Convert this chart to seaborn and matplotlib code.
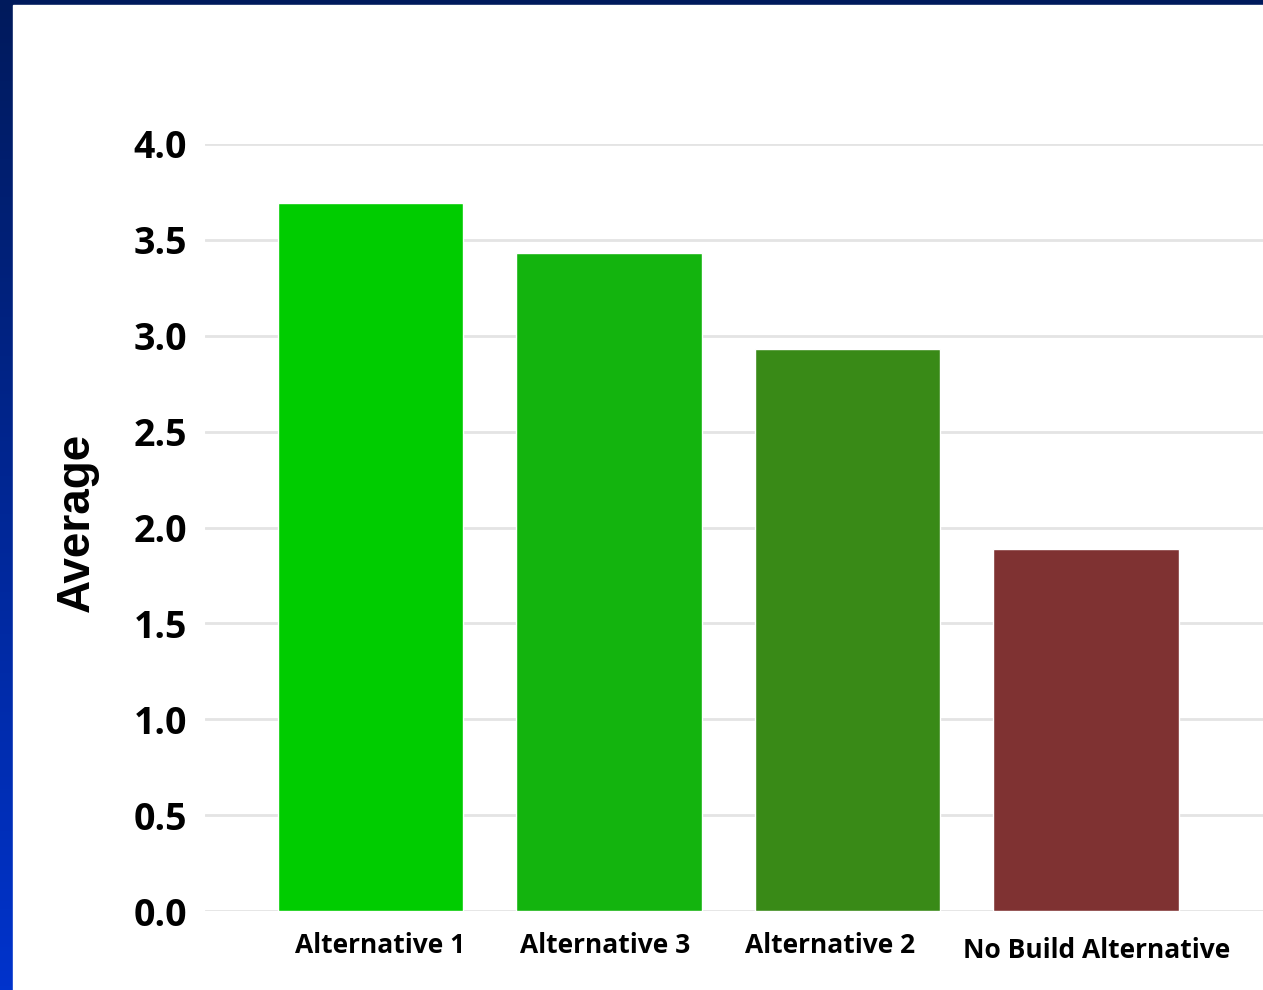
import numpy as np
import pandas as pd
import matplotlib
matplotlib.use("Agg")
import matplotlib.pyplot as plt
from matplotlib.patches import Rectangle
from matplotlib.colors import LinearSegmentedColormap
from matplotlib.transforms import ScaledTranslation
import seaborn as sns

categories = ["Alternative 1", "Alternative 3", "Alternative 2", "No Build Alternative"]
values = [3.69, 3.43, 2.93, 1.89]
colors = ["#00CC00", "#13B40E", "#398A17", "#7F3232"]
yticks = [0.0, 0.5, 1.0, 1.5, 2.0, 2.5, 3.0, 3.5, 4.0]

sns.set_theme(style="white")
plt.rcParams['font.family'] = ['Open Sans', 'DejaVu Sans']

W, H = 1263, 990
fig = plt.figure(figsize=(W / 100, H / 100), dpi=100)

# background frame with blue gradient
bg = fig.add_axes([0, 0, 1, 1], zorder=-10)
grad = np.linspace(0, 1, 256).reshape(-1, 1)
cmap = LinearSegmentedColormap.from_list("frame", ["#001A5C", "#0033CC"])
bg.imshow(grad, aspect="auto", cmap=cmap, extent=[0, 1, 0, 1], origin="upper")
bg.add_patch(Rectangle((13 / W, 0), 1 - 13 / W, (H - 5) / H, color="white", transform=bg.transAxes))
bg.set_xlim(0, 1)
bg.set_ylim(0, 1)
bg.axis("off")

left_px, right_px = 205, 1263
top_px, bottom_px = 144, 911
ax_w = right_px - left_px
ax_h = bottom_px - top_px
ax = fig.add_axes([left_px / W, 1 - bottom_px / H, ax_w / W, ax_h / H])
ax.set_facecolor("none")

df = pd.DataFrame({"cat": categories, "val": values})
sns.barplot(data=df, x="cat", y="val", hue="cat", palette=colors, legend=False,
            width=0.776, saturation=1, ax=ax, zorder=3)

spacing = 238.5
ax.set_xlim((left_px - 370.5) / spacing, (right_px - 370.5) / spacing)
ax.set_ylim(0, 4.0)
ax.set_yticks(yticks)
ax.set_yticklabels([f"{t:.1f}" for t in yticks], fontsize=27, fontweight="bold", color="black")
ax.tick_params(axis="y", length=0, pad=13)
ax.tick_params(axis="x", length=0, pad=15)

# small label offsets (pixels) to mimic the original placement
dx = [10, -4, -17, 11]
dy = [0, 0, 0, -5]
for lbl, ox, oy in zip(ax.get_xticklabels(), dx, dy):
    lbl.set_fontsize(19)
    lbl.set_fontweight("bold")
    lbl.set_color("black")
    lbl.set_transform(lbl.get_transform() + ScaledTranslation(ox / 100, oy / 100, fig.dpi_scale_trans))

ax.set_xlabel("")
ax.set_ylabel("Average", fontsize=33, fontweight="bold", color="black",
              family=["Liberation Sans", "DejaVu Sans"])
ax.yaxis.set_label_coords((99 - left_px) / ax_w, (bottom_px - 522) / ax_h)
ax.yaxis.grid(True, color="#E4E4E4", linewidth=2, zorder=0)
ax.set_axisbelow(True)
for s in ax.spines.values():
    s.set_visible(False)

fig.savefig("out.png", dpi=100)
